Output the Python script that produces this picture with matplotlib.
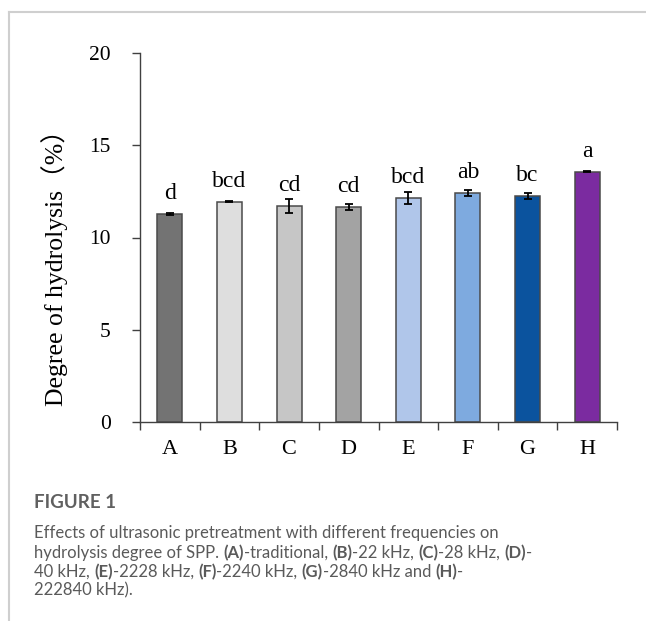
import matplotlib
matplotlib.use("Agg")
import matplotlib.pyplot as plt
from matplotlib.lines import Line2D

# ---- data ----
categories = ["A", "B", "C", "D", "E", "F", "G", "H"]
hydrolysis = [11.27, 11.94, 11.69, 11.63, 12.16, 12.41, 12.25, 13.57]
errors = [0.04, 0.04, 0.38, 0.16, 0.33, 0.18, 0.15, 0.03]
groups = ["d", "bcd", "cd", "cd", "bcd", "ab", "bc", "a"]
bar_colors = ["#737373", "#dedede", "#c6c6c6", "#a3a3a3",
              "#b0c6ea", "#7eaadf", "#0b539e", "#7b2ba0"]
yticks = [0, 5, 10, 15, 20]

W, H = 646, 621
DPI = 100
fig = plt.figure(figsize=(W / DPI, H / DPI), dpi=DPI)

serif = ["Liberation Serif", "Noto Sans CJK SC", "DejaVu Serif"]

# axes box in pixel coordinates
x0, x1 = 140, 617
y_top, y_bot = 53, 422
ax = fig.add_axes([x0 / W, 1 - y_bot / H, (x1 - x0) / W, (y_bot - y_top) / H])

pos = list(range(len(categories)))
ax.bar(pos, hydrolysis, width=0.42, color=bar_colors,
       edgecolor="#4a4a4a", linewidth=1.1, zorder=2)
ax.errorbar(pos, hydrolysis, yerr=errors, fmt="none", ecolor="black",
            elinewidth=1.3, capsize=3.2, capthick=1.3, zorder=3)

for xi, v, g in zip(pos, hydrolysis, groups):
    ax.annotate(g, (xi, v), xytext=(0, 10.8), textcoords="offset points",
                ha="center", va="baseline", fontsize=17, family=serif)

ax.set_xlim(-0.5, len(categories) - 0.5)
ax.set_ylim(0, 20)
ax.set_yticks(yticks)
ax.set_yticklabels([str(t) for t in yticks], family=serif, fontsize=15.5)

# category labels centred between boundary ticks
ax.set_xticks([p - 0.5 for p in pos] + [len(categories) - 0.5])
ax.set_xticklabels([])
ax.set_xticks(pos, minor=True)
ax.set_xticklabels(categories, minor=True, family=serif, fontsize=16)
ax.tick_params(axis="x", which="major", direction="out", length=6,
               width=1, color="#404040")
ax.tick_params(axis="x", which="minor", length=0, pad=13)
ax.tick_params(axis="y", direction="out", length=6, width=1,
               color="#404040", pad=15)

for s in ["top", "right"]:
    ax.spines[s].set_visible(False)
for s in ["left", "bottom"]:
    ax.spines[s].set_color("#404040")
    ax.spines[s].set_linewidth(1)

fig.text(55 / W, 1 - 262 / H, "Degree of hydrolysis（%）", rotation=90,
         ha="center", va="center", fontsize=18.5, family=serif)

# card border
fig.add_artist(Line2D([9 / W, 1], [1 - 12 / H, 1 - 12 / H],
                      transform=fig.transFigure, color="#cfcfcf", lw=1.5))
fig.add_artist(Line2D([9 / W, 9 / W], [1 - 12 / H, 0],
                      transform=fig.transFigure, color="#cfcfcf", lw=1.5))

# caption
cap_color = "#5a5a5a"
cap_font = ["Lato", "DejaVu Sans"]
cap_size = 12.0
fig.text(34 / W, 1 - 503 / H, "FIGURE 1", ha="left", va="center",
         fontsize=13.5, family=cap_font, weight="bold", color="#606060")

caption_lines = [
    [("Effects of ultrasonic pretreatment with different frequencies on", "normal")],
    [("hydrolysis degree of SPP. ", "normal"), ("(A)", "bold"),
     ("-traditional, ", "normal"), ("(B)", "bold"), ("-22 kHz, ", "normal"),
     ("(C)", "bold"), ("-28 kHz, ", "normal"), ("(D)", "bold"), ("-", "normal")],
    [("40 kHz, ", "normal"), ("(E)", "bold"), ("-2228 kHz, ", "normal"),
     ("(F)", "bold"), ("-2240 kHz, ", "normal"), ("(G)", "bold"),
     ("-2840 kHz and ", "normal"), ("(H)", "bold"), ("-", "normal")],
    [("222840 kHz).", "normal")],
]
line_y = [533, 553, 572, 590]

renderer = fig.canvas.get_renderer()
for segs, yl in zip(caption_lines, line_y):
    xp = 34.0
    for txt, wt in segs:
        t = fig.text(xp / W, 1 - yl / H, txt, ha="left", va="center",
                     fontsize=cap_size, family=cap_font, weight=wt,
                     color=cap_color)
        bb = t.get_window_extent(renderer)
        xp += bb.width

fig.savefig("out.png", dpi=DPI)
